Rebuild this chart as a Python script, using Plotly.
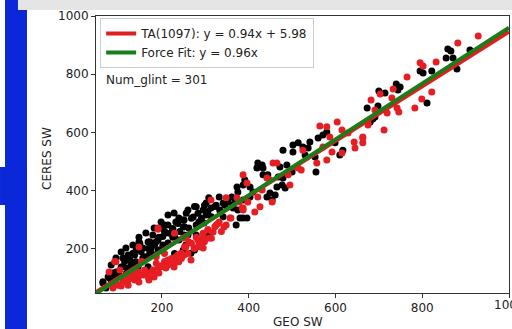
import plotly.graph_objects as go

# ---- data (GEO SW vs CERES SW) ----
black_x = [859, 866, 910, 855, 871, 880, 795, 802, 822, 740, 744, 749, 700, 714, 673, 698, 811, 686, 691,
           479, 502, 514, 525, 502, 541, 537, 560, 571, 580, 599, 617, 610, 555, 553, 530, 680,
           421, 431, 433, 419, 472, 488, 500, 468, 479, 433, 444, 465, 484, 477, 449, 461, 442, 454,
           391, 373, 375, 387, 403, 410, 403, 387, 368, 364, 380, 396, 361,
           64, 78, 87, 94, 106, 110, 122, 133, 124, 140, 147, 168, 156, 175, 186, 179, 193, 202, 209,
           214, 225, 232, 239, 249, 251, 260, 272, 279, 295, 302, 313, 325, 341, 352, 364, 375, 387,
           371, 297, 285, 262, 251, 239, 225, 214, 202, 191, 170, 156, 140, 122, 101, 89, 71,
           228, 214, 198, 182, 163, 147, 133, 117, 106, 94, 83, 302, 308, 332, 255, 267, 279,
           64, 76, 87, 83, 99, 110, 114, 126, 129, 137, 141, 149, 152, 160, 168, 172, 176, 183, 191,
           195, 202, 206, 206, 214, 218, 225, 229, 237, 241, 249, 252, 256, 260, 268, 275, 279, 283,
           291, 298, 306, 314, 322, 333, 341, 345, 249, 275, 306, 229, 168, 145, 118]
black_y = [887, 880, 883, 856, 856, 818, 811, 804, 811, 766, 746, 756, 742, 735, 684, 691, 701, 646, 653,
           539, 557, 564, 550, 533, 567, 546, 581, 591, 601, 564, 539, 522, 464, 515, 522, 636,
           495, 488, 478, 478, 481, 488, 464, 447, 443, 454, 454, 412, 409, 419, 392, 385, 378, 368,
           436, 412, 395, 419, 412, 395, 378, 368, 361, 350, 306, 306, 378,
           82, 100, 117, 120, 137, 168, 179, 185, 161, 155, 223, 223, 203, 203, 223, 247, 240, 271, 254,
           282, 265, 292, 306, 275, 299, 333, 309, 344, 333, 357, 340, 350, 357, 361, 340, 333, 306,
           282, 289, 292, 271, 247, 230, 240, 220, 213, 196, 179, 168, 137, 134, 110, 93, 65,
           323, 316, 292, 271, 254, 240, 213, 203, 189, 168, 144, 316, 375, 378, 213, 185, 247,
           87, 104, 110, 93, 121, 138, 156, 161, 144, 179, 196, 219, 190, 173, 201, 224, 184, 213, 230,
           196, 242, 282, 259, 219, 253, 270, 242, 287, 259, 299, 276, 322, 247, 305, 345, 282, 322,
           305, 350, 328, 310, 345, 333, 310, 350, 196, 196, 242, 184, 138, 138, 116]

red_x = [929, 882, 832, 795, 802, 765, 733, 822, 682, 799, 730, 783, 746, 719, 691, 675, 712, 663, 703, 742,
         564, 580, 604, 615, 587, 629, 663, 663, 643, 645, 615, 580, 592, 557, 525, 571, 675,
         514, 521, 456, 465, 491, 495, 442, 449, 431, 421, 454, 426, 387, 396, 385, 387, 414, 398, 373, 357,
         191, 313, 348, 359, 343, 325, 318, 308, 295, 285, 279, 262, 255, 244, 232, 225, 214, 202, 191,
         179, 168, 156, 145, 133, 122, 110, 99, 87, 94, 387, 378, 295, 274, 251, 239, 228, 209, 193,
         182, 170, 147, 136, 124, 249, 306, 332, 267, 147, 78,
         91, 95, 103, 114, 126, 137, 149, 160, 168, 179, 187, 191, 199, 206, 214, 222, 229, 237, 245,
         252, 260, 268, 275, 283, 287, 295, 298, 306, 314, 322, 329, 337, 348, 229, 187, 153, 206, 256,
         145, 122, 106]
red_y = [931, 907, 842, 839, 828, 790, 749, 739, 711, 715, 718, 684, 670, 667, 677, 632, 608, 584, 732, 684,
         622, 619, 636, 608, 584, 598, 581, 564, 567, 546, 529, 505, 533, 495, 539, 550, 625,
         478, 471, 495, 495, 454, 419, 443, 436, 402, 378, 361, 344, 454, 426, 340, 333, 326, 361, 375, 306,
         271, 368, 375, 306, 275, 282, 258, 237, 237, 213, 240, 223, 206, 185, 172, 155, 161, 144, 137,
         127, 117, 110, 103, 100, 93, 86, 75, 65, 155, 340, 361, 203, 203, 179, 155, 137, 134, 117,
         103, 93, 86, 117, 110, 237, 265, 292, 161, 206, 120,
         156, 81, 127, 93, 98, 93, 110, 127, 104, 121, 150, 267, 138, 156, 144, 167, 150, 179, 167,
         207, 184, 219, 201, 230, 207, 253, 224, 265, 236, 276, 287, 259, 282, 253, 173, 156, 184, 242,
         121, 75, 72]

x_range = [48, 1000]
y_range = [48, 1000]
ta_slope, ta_icpt = 0.94, 5.98
ff_slope = 0.96
num_glint = 301
ticks = [200, 400, 600, 800, 1000]

FONT = "DejaVu Sans"
TXT = "#222222"

fig = go.Figure()
fig.add_trace(go.Scatter(x=black_x, y=black_y, mode="markers", showlegend=False,
                         marker=dict(color="black", size=7, line=dict(width=0))))
fig.add_trace(go.Scatter(x=red_x, y=red_y, mode="markers", showlegend=False,
                         marker=dict(color="rgb(230,30,35)", size=7, line=dict(width=0))))
fig.add_trace(go.Scatter(x=x_range, y=[ta_slope * v + ta_icpt for v in x_range], mode="lines",
                         name="TA(1097): y = %.2fx + %.2f" % (ta_slope, ta_icpt),
                         line=dict(color="rgb(225,30,30)", width=4)))
fig.add_trace(go.Scatter(x=x_range, y=[ff_slope * v for v in x_range], mode="lines",
                         name="Force Fit: y = %.2fx" % ff_slope,
                         line=dict(color="rgb(25,125,25)", width=4)))

axis_common = dict(showgrid=False, zeroline=False, showline=True, mirror=True,
                   linecolor="#333333", linewidth=1, ticks="outside", ticklen=4,
                   tickcolor="#333333", tickvals=ticks,
                   tickfont=dict(family=FONT, size=12, color=TXT))

fig.update_layout(
    width=512, height=329,
    margin=dict(l=96, r=3, t=16, b=36),
    paper_bgcolor="white", plot_bgcolor="white",
    xaxis=dict(range=x_range, **axis_common),
    yaxis=dict(range=y_range, **axis_common),
    legend=dict(x=0.01, y=0.993, xanchor="left", yanchor="top",
                bgcolor="white", bordercolor="#cccccc", borderwidth=1,
                font=dict(family=FONT, size=12, color=TXT),
                tracegroupgap=0, itemwidth=30),
    shapes=[
        dict(type="rect", xref="paper", yref="paper", x0=-0.2203, x1=-0.1671, y0=-0.14, y1=1.06,
             fillcolor="rgb(10,40,215)", line=dict(width=0), layer="above"),
        dict(type="rect", xref="paper", yref="paper", x0=-0.2324, x1=-0.1671, y0=0.3177, y1=0.4549,
             fillcolor="rgb(10,40,215)", line=dict(width=0), layer="above"),
        dict(type="rect", xref="paper", yref="paper", x0=-0.1889, x1=1.02, y0=1.0217, y1=1.06,
             fillcolor="rgb(229,229,229)", line=dict(width=0), layer="above"),
    ],
    annotations=[
        dict(text=str(ticks[-1]), xref="x", yref="paper", x=ticks[-1], y=-0.0433,
             xanchor="center", yanchor="middle", showarrow=False,
             font=dict(family=FONT, size=12, color=TXT)),
        dict(text="Num_glint = %d" % num_glint, xref="paper", yref="paper", x=0.0194, y=0.769,
             xanchor="left", yanchor="middle", showarrow=False,
             font=dict(family=FONT, size=12, color=TXT)),
        dict(text="GEO SW", xref="paper", yref="paper", x=0.49, y=-0.105,
             xanchor="center", yanchor="middle", showarrow=False,
             font=dict(family=FONT, size=12, color=TXT)),
        dict(text="CERES SW", xref="paper", yref="paper", x=-0.119, y=0.487,
             xanchor="center", yanchor="middle", showarrow=False, textangle=-90,
             font=dict(family=FONT, size=12, color=TXT)),
    ],
)

fig.write_html("out.html")
